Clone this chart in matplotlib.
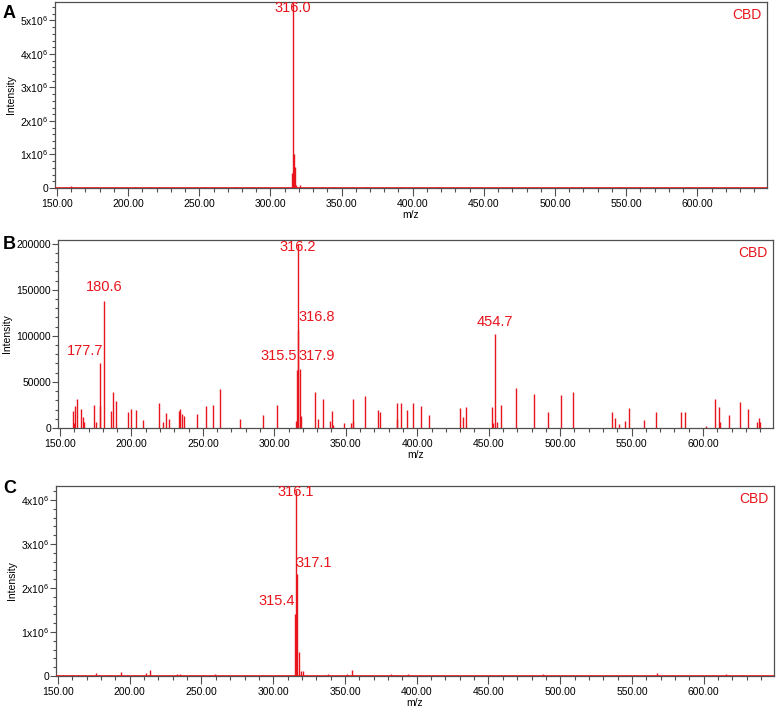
import numpy as np
import matplotlib
matplotlib.use('Agg')
import matplotlib.pyplot as plt
from matplotlib.ticker import MultipleLocator, FuncFormatter

plt.rcParams['font.family'] = ['Liberation Sans', 'DejaVu Sans']
plt.rcParams['mathtext.fontset'] = 'custom'
plt.rcParams['mathtext.rm'] = 'Liberation Sans'

RED = '#e8151d'
SPINE = '#505050'

# ---- panel A: peaks (m/z, intensity) ----
mz_a = [315.3, 315.7, 316.7, 317.4, 318.0, 320.5,
        159.6, 170.0, 191.0, 205.0, 216.0, 222.0, 231.0, 243.0, 253.0,
        260.0, 275.0, 288.0, 296.0, 330.0, 336.0, 345.0, 357.0, 368.0,
        392.0, 418.6, 443.0, 470.0, 512.0, 530.0, 545.0, 560.0, 578.0,
        594.0, 611.0, 640.0]
int_a = [0.44e6, 5.6e6, 1.0e6, 0.64e6, 0.1e6, 0.08e6,
         0.05e6, 0.02e6, 0.03e6, 0.02e6, 0.02e6, 0.03e6, 0.03e6, 0.02e6, 0.02e6,
         0.04e6, 0.02e6, 0.03e6, 0.02e6, 0.04e6, 0.03e6, 0.03e6, 0.04e6, 0.02e6,
         0.02e6, 0.03e6, 0.02e6, 0.02e6, 0.02e6, 0.03e6, 0.03e6, 0.02e6, 0.03e6,
         0.04e6, 0.03e6, 0.02e6]

# ---- panel B ----
mz_b = [158.9, 159.8, 160.5, 162.1, 164.9, 166.1, 167.0, 174.0, 175.4, 177.7,
        178.2, 180.6, 185.9, 187.3, 189.4, 197.8, 199.5, 203.4, 207.9, 219.1,
        221.9, 224.4, 226.0, 233.2, 234.1, 235.6, 236.6, 245.7, 252.4, 257.3,
        262.2, 276.2, 291.8, 301.6, 315.2, 315.6, 316.3, 316.8, 317.7, 318.9,
        328.4, 330.7, 334.0, 339.0, 340.2, 341.0, 349.0, 353.4, 354.8, 355.0,
        363.5, 372.3, 374.2, 385.6, 386.0, 388.4, 392.8, 397.3, 402.9, 408.5,
        430.2, 432.3, 434.1, 452.1, 453.0, 454.7, 456.0, 458.4, 469.3, 481.7,
        491.7, 500.6, 508.7, 536.0, 538.4, 541.5, 545.1, 548.4, 558.9, 567.3,
        584.6, 587.2, 602.3, 608.4, 611.2, 612.0, 618.0, 625.7, 631.3, 637.6,
        639.4, 640.0]
int_b = [18500, 5000, 24000, 31000, 21000, 11600, 6800, 25000, 6800, 70300,
         24000, 138000, 18500, 38800, 29300, 17400, 21000, 20000, 9000, 26800,
         6000, 16600, 10000, 18500, 21000, 15000, 13500, 15500, 24000, 25000,
         42000, 9800, 14500, 25200, 8000, 62700, 200000, 106500, 64500, 13500,
         38800, 10000, 32000, 8000, 18500, 3000, 5000, 5500, 31000, 8000,
         35000, 20000, 17400, 26800, 10000, 26800, 20000, 26800, 24000, 14000,
         21600, 11600, 22600, 22600, 5500, 101800, 6000, 24700, 43800, 37000,
         17000, 36000, 39500, 17400, 10800, 4000, 7800, 22000, 8500, 17000,
         17400, 17400, 2000, 31500, 22600, 6000, 14500, 28000, 21000, 6700,
         10800, 7000]

# ---- panel C ----
mz_c = [314.9, 315.6, 316.5, 317.9, 319.2, 320.6,
        153.7, 159.5, 164.2, 176.5, 186.2, 193.7, 203.6, 211.1, 214.3, 232.7,
        235.0, 251.2, 259.4, 280.3, 293.0, 303.5, 330.2, 338.3, 351.1, 354.6,
        367.3, 382.4, 385.9, 394.0, 402.2, 418.4, 441.6, 451.0, 480.0, 488.0,
        520.6, 539.2, 567.5, 578.6, 606.5, 615.8, 627.4]
int_c = [1.42e6, 4.23e6, 2.32e6, 0.55e6, 0.12e6, 0.12e6,
         0.03e6, 0.03e6, 0.03e6, 0.06e6, 0.03e6, 0.1e6, 0.03e6, 0.06e6, 0.13e6, 0.04e6,
         0.04e6, 0.03e6, 0.04e6, 0.03e6, 0.03e6, 0.03e6, 0.03e6, 0.04e6, 0.05e6, 0.14e6,
         0.03e6, 0.04e6, 0.03e6, 0.04e6, 0.03e6, 0.03e6, 0.03e6, 0.03e6, 0.03e6, 0.04e6,
         0.03e6, 0.03e6, 0.06e6, 0.03e6, 0.03e6, 0.04e6, 0.03e6]

# peak labels: text, anchor m/z, anchor intensity, alignment
labels_a = [('316.0', 315.7, 5.15e6, 'center')]
labels_b = [('316.2', 316.3, 189000, 'center'),
            ('180.6', 181.0, 145600, 'center'),
            ('177.7', 180.5, 75700, 'right'),
            ('316.8', 316.6, 112700, 'left'),
            ('315.5', 315.7, 70300, 'right'),
            ('317.9', 317.2, 70300, 'left'),
            ('454.7', 454.4, 107600, 'center')]
labels_c = [('316.1', 315.7, 4.02e6, 'center'),
            ('317.1', 315.8, 2.41e6, 'left'),
            ('315.4', 315.1, 1.55e6, 'right')]


def sci_fmt(v, pos):
    if v == 0:
        return '0'
    return r'$\mathregular{%dx10^{6}}$' % round(v / 1e6)


def setup(ax, ylim, ymajor, yminor, yfmt):
    ax.set_xlim(148.6, 649)
    ax.set_ylim(0, ylim)
    ax.xaxis.set_major_locator(MultipleLocator(50))
    ax.xaxis.set_minor_locator(MultipleLocator(10))
    ax.xaxis.set_major_formatter(FuncFormatter(lambda v, p: '%.2f' % v))
    ax.yaxis.set_major_locator(MultipleLocator(ymajor))
    ax.yaxis.set_minor_locator(MultipleLocator(yminor))
    ax.yaxis.set_major_formatter(FuncFormatter(yfmt))
    ax.tick_params(axis='x', which='major', length=6, width=0.8, color=SPINE,
                   labelsize=7.5, pad=2)
    ax.tick_params(axis='x', which='minor', length=3, width=0.8, color=SPINE)
    ax.tick_params(axis='y', which='major', length=4, width=0.8, color=SPINE,
                   labelsize=7.5, pad=1)
    ax.tick_params(axis='y', which='minor', length=2.4, width=0.8, color=SPINE)
    for s in ax.spines.values():
        s.set_color(SPINE)
        s.set_linewidth(0.9)
    ax.set_xlabel('m/z', fontsize=7.5, labelpad=1)
    ax.set_ylabel('Intensity', fontsize=7.5, labelpad=3)
    ax.annotate('CBD', xy=(1, 1), xycoords='axes fraction', xytext=(-4, -4),
                textcoords='offset points', ha='right', va='top',
                color=RED, fontsize=10)


def draw(ax, mz, inten, labels, baseline=False):
    ax.vlines(mz, 0, inten, colors=RED, linewidth=1.0)
    if baseline:
        ax.axhline(0, color=RED, linewidth=1.2, zorder=3)
    for txt, x, y, ha in labels:
        ax.text(x, y, txt, ha=ha, va='bottom', color=RED, fontsize=10.5)


fig = plt.figure(figsize=(7.76, 7.09), dpi=100)
W, H = 776.0, 709.0

def axes_px(l, t, r, b):
    return fig.add_axes([l / W, 1 - b / H, (r - l) / W, (b - t) / H])

ax_a = axes_px(55, 2, 767, 188)
ax_b = axes_px(58, 240, 773, 428)
ax_c = axes_px(56, 486, 774, 676)

setup(ax_a, 5.55e6, 1e6, 2e5, sci_fmt)
setup(ax_b, 204000, 50000, 10000, lambda v, p: '%d' % v)
setup(ax_c, 4.32e6, 1e6, 2e5, sci_fmt)

draw(ax_a, mz_a, int_a, labels_a, baseline=True)
draw(ax_b, mz_b, int_b, labels_b)
draw(ax_c, mz_c, int_c, labels_c, baseline=True)

for lab, ytop in (('A', 5), ('B', 236), ('C', 480)):
    fig.text(3 / W, 1 - ytop / H, lab, ha='left', va='top',
             fontsize=13, fontweight='bold')

fig.savefig('out.png', dpi=100)
